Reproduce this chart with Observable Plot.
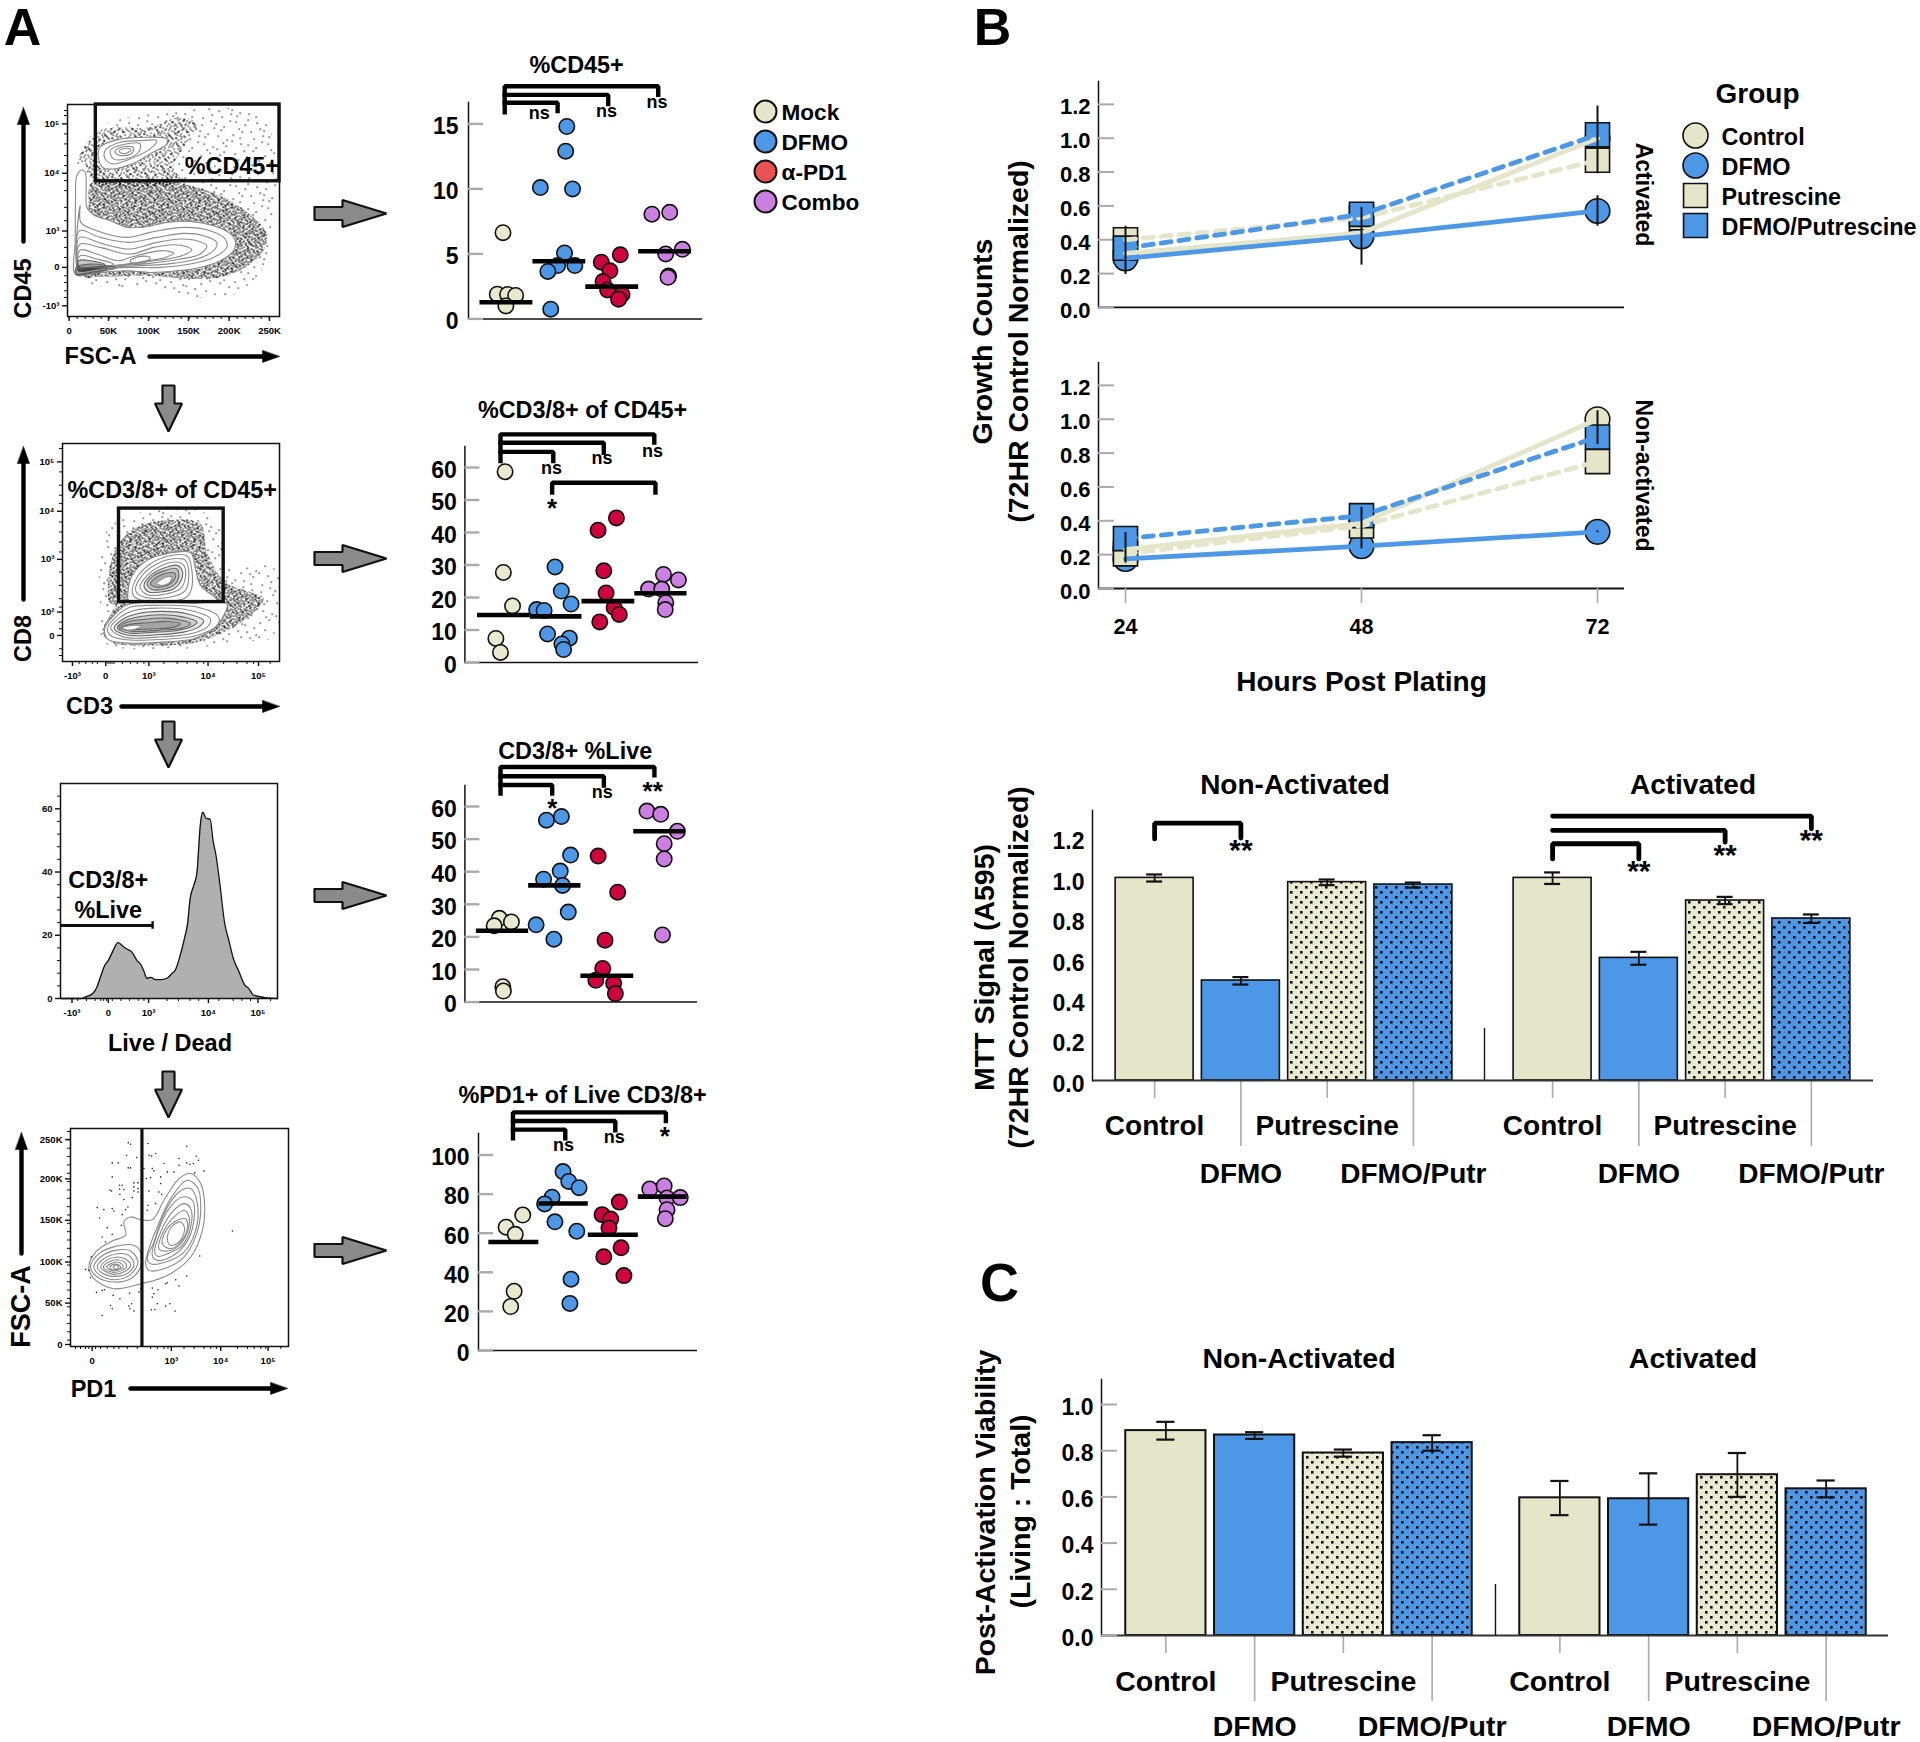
<!DOCTYPE html>
<html><head><meta charset="utf-8">
<script src="https://cdn.jsdelivr.net/npm/d3@7"></script>
<script src="https://cdn.jsdelivr.net/npm/@observablehq/plot@0.6"></script>
<style>html,body{margin:0;padding:0;background:#fff}#page{position:relative;width:1920px;height:1742px;overflow:hidden;background:#fff}#page>svg{position:absolute;overflow:visible}</style>
</head><body><div id="page"></div>
<script>
// ---------- colours ----------
const beige="#E4E5C9", blue="#4C97E6", red="#D0033C", legendRed="#EC5153", purple="#CB7FE0";
const FONT="'Liberation Sans',Arial,sans-serif";
// ---------- panel A: groups ----------
const mouseGroups=["Mock","DFMO","α-PD1","Combo"];
// [swarm position, value]
const cd45Mock=[[875,6.63],[865,1.9],[883,1.88],[897,1.8],[880,1.0]];
const cd45Dfmo=[[986,14.8],[984,12.9],[940,10.1],[996,10],[982,5.07],[970,4.1],[1000,4.1],[953,3.65],[958,0.75]];
const cd45Pd1=[[1079,4.93],[1046,4.36],[1061,3.7],[1049,2.87],[1057,2.23],[1082,1.88],[1076,1.52]];
const cd45Combo=[[1134,8.05],[1165,8.2],[1187,5.35],[1158,5.0],[1163,3.3],[1162,3.2]];
const cd45Medians=[[835,927,1.28],[927,1019,4.43],[1019,1111,2.48],[1111,1203,5.2]];
const cd45Brackets=[[[878,15.89],[878,17.9],[1145,17.9],[1145,17.23]],[[878,17.23],[1058,17.23],[1058,16.52]],[[878,16.63],[970,16.63],[970,15.99]]];
const cd45Notes=[["ns",938,15.82],["ns",1055,15.99],["ns",1143,16.63]];

const cd38Mock=[[878,58.7],[875,27.7],[891,17.4],[862,7.4],[870,3.1]];
const cd38Dfmo=[[965,29.4],[976,22],[993,18],[933,16.3],[946,16],[952,8.8],[990,7.5],[977,5.7],[980,4]];
const cd38Pd1=[[1072,44.5],[1040,40.7],[1050,28.2],[1054,21.4],[1068,16.9],[1077,14.8],[1043,12.5]];
const cd38Combo=[[1154,27.1],[1180,25.4],[1128,22.6],[1151,22.6],[1158,18.4],[1157,16.3]];
const cd38Medians=[[830,922,14.6],[922,1012,14.2],[1012,1104,18.9],[1104,1195,21.3]];
const cd38Brackets=[[[870,62],[870,70.2],[1138,70.2],[1138,67.7]],[[870,67.6],[1050,67.6],[1050,64.5]],[[870,64.8],[962,64.8],[962,62]],[[960,52.3],[960,55.3],[1140,55.3],[1140,52.3]]];
const cd38Notes=[["ns",959,59.9],["ns",1047,62.7],["ns",1135,65],["*",960,49.2]];

const liveMock=[[868,25.7],[889,24.6],[859,23.4],[874,4.7],[875,3.4]];
const liveDfmo=[[976,56.9],[950,55.8],[992,45.1],[974,40.2],[945,37.7],[978,35.8],[988,27.6],[932,23.7],[963,19.3]];
const livePd1=[[1040,44.8],[1074,33.7],[1052,19],[1048,10.3],[1036,6.7],[1067,5.8],[1070,2.6]];
const liveCombo=[[1125,58.6],[1149,57.6],[1178,52.4],[1155,48.6],[1155,43.9],[1152,20.6]];
const liveMedians=[[828,919,21.9],[919,1010,35.8],[1010,1102,8.1],[1102,1192,52.4]];
const liveBrackets=[[[870,64],[870,72.1],[1138,72.1],[1138,69.6]],[[870,69.3],[1050,69.3],[1050,66.4]],[[870,66.6],[960,66.6],[960,64]]];
const liveNotes=[["*",960,61.2],["ns",1047,64.4],["**",1135,66.4]];

const pd1Mock=[[909,69.3],[880,63.1],[896,59.4],[894,30.3],[888,22.5]];
const pd1Dfmo=[[979,91.5],[989,86.5],[1007,83.3],[960,78.4],[947,75],[965,65.8],[1003,61],[993,36.5],[991,24.1]];
const pd1Pd1=[[1077,75.9],[1047,69.5],[1062,67.2],[1059,62.6],[1080,52.5],[1050,47.9],[1085,38.3]];
const pd1Combo=[[1130,82.6],[1155,84.2],[1160,78],[1183,78.2],[1160,72],[1157,67.4]];
const pd1Medians=[[850,937,55.5],[937,1023,75.2],[1023,1110,59.2],[1110,1195,78.7]];
const pd1Brackets=[[[892,108.5],[892,121.8],[1158,121.8],[1158,117.4]],[[892,117.4],[1070,117.4],[1070,112.6]],[[892,113],[983,113],[983,108.5]]];
const pd1Notes=[["ns",980,105],["ns",1068,108.9],["*",1156,112.6]];

// ---------- panel A: cytometry outlines ----------
const fl1Main=[[[95,238],[105,245],[108,300],[110,350],[130,372],[180,390],[232,410],[290,408],[350,395],[420,392],[490,405],[535,425],[555,450],[550,480],[510,510],[450,530],[380,540],[300,545],[230,540],[150,545],[85,555],[72,545],[75,450],[76,330],[80,255]],
[[90,345],[92,395],[140,420],[230,440],[300,425],[400,410],[480,420],[525,445],[530,470],[490,500],[420,520],[330,530],[240,530],[140,535],[85,540],[78,500],[80,430]],
[[88,420],[150,440],[235,455],[320,440],[400,428],[460,435],[500,455],[490,480],[440,505],[350,520],[260,525],[150,530],[85,535],[78,490]],
[[88,440],[160,460],[240,475],[320,455],[390,445],[440,450],[470,465],[450,490],[390,505],[300,518],[200,525],[90,530],[80,490]],
[[90,460],[150,470],[240,490],[310,470],[370,462],[410,468],[425,478],[395,495],[330,508],[250,518],[150,528],[90,530],[80,500]],
[[90,478],[140,490],[205,510],[240,500],[300,485],[345,480],[370,488],[345,500],[280,512],[220,522],[120,530],[85,530]],
[[90,495],[140,505],[190,520],[160,530],[100,535],[80,525]],
[[240,510],[270,497],[300,500],[285,515],[250,518]],
[[85,510],[120,510],[165,522],[130,535],[85,538]],
[[78,530],[120,520],[200,532],[120,545],[78,550]],
[[78,538],[120,530],[170,536],[120,548],[78,552]],
[[150,170],[200,148],[290,140],[350,145],[350,160],[300,190],[250,218],[190,235],[160,232],[145,205]],
[[165,180],[210,155],[280,150],[320,150],[300,175],[240,205],[190,220],[165,205]],
[[180,180],[220,162],[270,160],[265,185],[225,205],[190,205]],
[[195,180],[225,168],[250,172],[245,188],[215,195],[198,190]],
[[207,180],[230,173],[243,178],[230,187],[212,187]]];
const fl1Dense=[[120,280],[135,275],[240,270],[400,280],[520,320],[610,380],[650,430],[640,480],[600,520],[530,555],[430,565],[300,555],[150,558],[100,556],[115,400]];
const fl1Top=[[85,210],[150,120],[300,110],[390,80],[440,100],[400,170],[370,230],[400,270],[135,275],[100,225]];
const fl1Sparse=[[80,220],[150,110],[300,70],[500,50],[640,80],[680,270],[660,430],[640,530],[530,620],[300,590],[100,565],[120,300]];

const fl2Rings=[[[235,495],[232,470],[245,420],[290,375],[350,355],[420,352],[435,400],[450,450],[500,495],[380,497]],
[[245,470],[260,425],[300,385],[355,362],[410,362],[425,410],[420,470],[400,490],[260,490]],
[[255,465],[275,420],[320,385],[370,370],[405,375],[415,420],[405,465],[360,485],[280,485]],
[[268,455],[290,420],[330,392],[375,380],[400,390],[405,425],[390,460],[350,475],[290,478]],
[[280,450],[300,420],[340,398],[380,390],[395,405],[392,435],[370,460],[330,470],[295,470]],
[[290,445],[310,420],[345,405],[378,400],[385,420],[375,445],[345,460],[305,462]],
[[300,445],[325,422],[355,412],[375,415],[370,435],[345,452],[315,455]],
[[318,445],[340,428],[362,424],[360,438],[338,450]],
[[162,580],[185,545],[225,510],[300,500],[420,503],[530,505],[520,540],[490,580],[430,610],[330,620],[220,622],[170,610]],
[[170,580],[195,545],[240,515],[320,510],[440,515],[505,545],[500,570],[440,600],[330,612],[220,612],[180,600]],
[[180,578],[205,548],[250,525],[320,518],[420,525],[480,550],[470,575],[420,595],[320,605],[220,605]],
[[190,578],[215,552],[260,535],[330,528],[410,535],[460,555],[445,575],[400,590],[320,598],[225,598]],
[[200,576],[225,555],[270,543],[340,538],[400,545],[440,560],[420,575],[380,585],[310,590],[230,592]],
[[205,576],[230,560],[280,552],[345,548],[395,555],[420,565],[395,578],[330,584],[240,587]],
[[210,576],[240,566],[290,562],[350,558],[390,565],[370,575],[310,580],[240,582]],
[[215,577],[245,570],[275,572],[250,582],[225,583]]];
const fl2Dense=[[175,500],[190,350],[250,280],[350,255],[450,265],[470,350],[525,440],[600,470],[640,490],[600,540],[520,590],[440,620],[300,630],[180,620],[155,590],[190,510]];
const fl2Sparse=[[160,300],[240,240],[460,230],[520,300],[540,400],[680,380],[688,500],[680,600],[560,620],[380,640],[160,620],[150,540]];

const fl3X=[105,125,140,150,160,168,175,182,188,196,205,215,222,228,238,245,250,255,262,270,280,290,298,305,312,320,326,330,337,342,348,352,358,365,370,375,382,390,398,405,415,425,432,440,460,482];
const fl3Count=[0,0,0,0.6,1.4,3.5,7.1,10.5,12,15,17.7,16.3,15.5,14.9,12,10.6,8.6,6.4,6.7,6,6,6.4,7.8,9.2,13,18.7,24,31.2,36,39.7,55,58.9,57,56.7,50,45.4,36,24,18,12.8,8.5,4.3,3.2,1.1,0.3,0];

const fl4Rings=[[[115,440],[135,395],[185,362],[225,345],[220,305],[240,290],[270,298],[305,298],[340,240],[385,175],[420,160],[450,190],[462,260],[455,330],[420,410],[350,465],[270,490],[190,505],[130,475]],
[[285,430],[295,385],[320,320],[360,235],[410,180],[442,205],[450,270],[438,340],[400,410],[340,445],[295,450]],
[[290,415],[310,365],[340,280],[385,215],[420,205],[440,250],[435,330],[400,395],[345,425],[300,430]],
[[305,405],[320,340],[355,265],[395,230],[425,240],[428,310],[405,370],[360,410],[320,420]],
[[312,395],[330,335],[365,275],[400,250],[420,265],[420,320],[395,375],[350,400],[322,408]],
[[325,385],[340,330],[370,290],[400,270],[415,290],[410,335],[385,375],[350,392]],
[[335,370],[350,325],[380,300],[405,295],[410,325],[390,365],[360,385]],
[[350,355],[362,320],[390,305],[402,325],[385,365],[360,375]],
[[120,440],[145,400],[195,378],[250,375],[272,400],[270,440],[240,475],[190,485],[140,470]],
[[130,440],[150,410],[195,390],[240,392],[262,425],[240,462],[190,478],[145,462]],
[[140,440],[160,415],[200,400],[235,405],[250,432],[232,458],[190,468],[155,458]],
[[150,440],[168,420],[200,410],[228,418],[240,435],[225,452],[190,462],[162,452]],
[[158,440],[175,425],[200,418],[222,425],[228,438],[215,450],[190,456],[168,450]],
[[168,440],[180,430],[200,425],[215,432],[218,440],[205,448],[185,450]],
[[178,440],[190,432],[205,434],[210,442],[195,449],[182,447]],
[[188,440],[197,434],[204,440],[196,447]]];
const fl4Events=[[233,68],[240,72],[292,70],[228,105],[258,112],[295,105],[303,107],[315,100],[408,78],[437,108],[385,115],[443,120],[185,128],[203,128],[340,130],[385,135],[408,128],[418,132],[428,130],[233,143],[240,143],[280,145],[305,145],[310,152],[350,155],[370,155],[432,158],[460,152],[185,170],[287,175],[300,172],[330,170],[207,195],[215,195],[250,188],[262,188],[330,190],[250,200],[262,205],[207,207],[220,208],[178,210],[183,212],[295,212],[325,215],[208,222],[250,212],[262,215],[220,238],[245,232],[333,222],[315,250],[140,262],[160,268],[185,265],[190,272],[232,260],[225,268],[292,255],[275,270],[290,270],[147,293],[215,283],[170,322],[212,315],[155,350],[185,342],[165,365],[545,332],[447,407],[122,410],[105,447],[115,450],[120,472],[408,467],[375,478],[385,497],[345,490],[350,487],[155,510],[138,516],[162,508],[188,525],[208,535],[237,518],[265,515],[270,505],[305,503],[322,508],[310,520],[305,530],[180,555],[185,565],[235,557],[243,550],[238,565],[250,572],[320,550],[345,557],[358,550],[302,568],[313,567],[373,572],[155,585]];

// ---------- panel B: growth curves ----------
const hours=[24,48,72];
const treatGroups=["Control","DFMO","Putrescine","DFMO/Putrescine"];
const actControl=[0.32,0.44,1.0], actDfmo=[0.29,0.42,0.57], actPutr=[0.40,0.53,0.87], actBoth=[0.35,0.55,1.02];
const nonControl=[0.23,0.385,1.0], nonDfmo=[0.175,0.25,0.335], nonPutr=[0.205,0.37,0.75], nonBoth=[0.295,0.43,0.895];
// [hours, low, high]
const actErr=[[24,0.195,0.48],[48,0.25,0.59],[72,0.79,1.19],[72,0.48,0.66]];
const nonErr=[[24,0.15,0.33],[48,0.235,0.48],[72,0.85,1.05],[72,0.33,0.34]];

// ---------- MTT and viability bars ----------
const barGroups=["Control","DFMO","Putrescine","DFMO/Putr"];
const barPanels=["Non-Activated","Activated"];
const mttNon=[1.003,0.495,0.982,0.97], mttAct=[1.003,0.607,0.891,0.802];
const mttNonLo=[0.985,0.475,0.967,0.955], mttNonHi=[1.02,0.512,0.995,0.98];
const mttActLo=[0.973,0.573,0.873,0.78], mttActHi=[1.03,0.637,0.909,0.822];
const viaNon=[0.887,0.868,0.79,0.835], viaAct=[0.596,0.592,0.696,0.635];
const viaNonLo=[0.848,0.851,0.774,0.80], viaNonHi=[0.925,0.88,0.805,0.867];
const viaActLo=[0.521,0.48,0.60,0.598], viaActHi=[0.669,0.702,0.79,0.671];
const mttBrackets=[["Non-Activated",[["Control",1.196],["Control",1.274],["DFMO",1.274],["DFMO",1.2]]],
["Activated",[["Control",1.097],["Control",1.172],["DFMO",1.172],["DFMO",1.097]]],
["Activated",[["Control",1.238],["Putrescine",1.238],["Putrescine",1.18]]],
["Activated",[["Control",1.309],["DFMO/Putr",1.309],["DFMO/Putr",1.246]]]];
const mttStars=[["Non-Activated","DFMO",1.158],["Activated","DFMO",1.053],["Activated","Putrescine",1.134],["Activated","DFMO/Putr",1.208]];

// ---------- helpers ----------
const page=document.getElementById("page");
function place(el,left,top){el.style.position="absolute";el.style.left=left+"px";el.style.top=top+"px";el.style.background="transparent";page.appendChild(el);return el;}
const baseStyle={fontFamily:FONT,background:"transparent",color:"#000"};
const flat=(list)=>list.flatMap((pts,id)=>pts.map(([a,b])=>({a,b,id})));
const blankTick=()=>"";

// textures
const SVGNS="http://www.w3.org/2000/svg";
const defsSvg=document.createElementNS(SVGNS,"svg");
defsSvg.setAttribute("style","position:absolute;width:0;height:0");
function halton(i,b){let f=1,r=0;while(i>0){f/=b;r+=f*(i%b);i=Math.floor(i/b);}return r;}
function stipple(id,n,size){
  let d="";for(let i=1;i<=n;i++){d+=`M${Math.floor(halton(i,2)*size)} ${Math.floor(halton(i,3)*size)}h1.3v1.3h-1.3z`;}
  return `<pattern id="${id}" width="${size}" height="${size}" patternUnits="userSpaceOnUse"><path d="${d}" fill="#000"/></pattern>`;
}
function barTex(id,bg){return `<pattern id="${id}" width="10" height="10" patternUnits="userSpaceOnUse"><rect width="10" height="10" fill="${bg}"/><rect x="1" y="1" width="2.6" height="2.6" fill="#111"/><rect x="6" y="6" width="2.6" height="2.6" fill="#111"/></pattern>`;}
defsSvg.innerHTML=stipple("stDense",900,64)+stipple("stMed",480,64)+stipple("stSparse",70,64)+barTex("texBeige","#E9EAD2")+barTex("texBlue",blue);
page.appendChild(defsSvg);

// ---------- swarm panels ----------
function swarm({mock,dfmo,pd1,combo,medians,brackets,notes,title,titleX,titleY,xz,axisPx,rightPx,topPx,basePx,pxPerUnit,ticks,tickEnd,labelDy}){
  const left=400, top=topPx-70, w=rightPx-left+10, h=basePx-top+28;
  const pts=[];[mock,dfmo,pd1,combo].forEach((arr,i)=>arr.forEach(([p,v])=>pts.push({g:mouseGroups[i],p,v})));
  const meds=medians.map(([a,b,v])=>({a,b,v}));
  const lines=brackets.flatMap((b,id)=>b.map(([x,y])=>({x,y,id})));
  const plot=Plot.plot({width:w,height:h,marginLeft:axisPx-left,marginRight:10,marginTop:70,marginBottom:28,style:baseStyle,
    x:{domain:xz,range:[axisPx-left,rightPx-left],axis:null},
    y:{domain:[0,(basePx-topPx)/pxPerUnit],label:null,axis:null},
    color:{domain:mouseGroups,range:["#E8E9CF",blue,red,purple]},
    marks:[
      Plot.frame({anchor:"left",stroke:"#111",strokeWidth:1.5}),
      Plot.ruleY([0],{stroke:"#111",strokeWidth:1.5}),
      Plot.ruleY(ticks,{stroke:"#aaa",strokeWidth:2.4,insetRight:w-(axisPx-left)-10-15}),
      Plot.axisY({ticks,tickSize:0,tickPadding:tickEnd,fontSize:23,fontWeight:"bold",dy:labelDy,label:null,tickFormat:d=>d}),
      Plot.dot(pts,{x:"p",y:"v",r:7.7,fill:"g",stroke:"#111",strokeWidth:1.6}),
      Plot.ruleY(meds,{y:"v",x1:"a",x2:"b",stroke:"#000",strokeWidth:4.6}),
      Plot.line(lines,{x:"x",y:"y",z:"id",stroke:"#000",strokeWidth:4.4,strokeLinejoin:"miter",strokeLinecap:"square"}),
      Plot.text(notes.filter(n=>n[0]==="ns"),{x:d=>d[1],y:d=>d[2],text:d=>d[0],fontSize:18,fontWeight:"bold"}),
      Plot.text(notes.filter(n=>n[0]!=="ns"),{x:d=>d[1],y:d=>d[2],text:d=>d[0],fontSize:26,fontWeight:"bold",dy:6}),
      Plot.text([title],{x:titleX,y:titleY,fontSize:23.4,fontWeight:"bold"})
    ]});
  place(plot,left,top);
}
swarm({mock:cd45Mock,dfmo:cd45Dfmo,pd1:cd45Pd1,combo:cd45Combo,medians:cd45Medians,brackets:cd45Brackets,notes:cd45Notes,title:"%CD45+",titleX:1003,titleY:19.5,xz:[815,1222],axisPx:468,rightPx:702,topPx:102,basePx:318.4,pxPerUnit:13,ticks:[0,5,10,15],tickEnd:10,labelDy:3});
swarm({mock:cd38Mock,dfmo:cd38Dfmo,pd1:cd38Pd1,combo:cd38Combo,medians:cd38Medians,brackets:cd38Brackets,notes:cd38Notes,title:"%CD3/8+ of CD45+",titleX:1013,titleY:77.6,xz:[808,1215],axisPx:464.4,rightPx:698,topPx:446,basePx:662,pxPerUnit:3.25,ticks:[0,10,20,30,40,50,60],tickEnd:8,labelDy:3});
swarm({mock:liveMock,dfmo:liveDfmo,pd1:livePd1,combo:liveCombo,medians:liveMedians,brackets:liveBrackets,notes:liveNotes,title:"CD3/8+ %Live",titleX:1000,titleY:76.8,xz:[808,1213],axisPx:464.4,rightPx:697,topPx:785,basePx:1001.6,pxPerUnit:3.26,ticks:[0,10,20,30,40,50,60],tickEnd:8,labelDy:3});
swarm({mock:pd1Mock,dfmo:pd1Dfmo,pd1:pd1Pd1,combo:pd1Combo,medians:pd1Medians,brackets:pd1Brackets,notes:pd1Notes,title:"%PD1+ of Live CD3/8+",titleX:1013,titleY:130.5,xz:[832,1213],axisPx:478,rightPx:697,topPx:1132.6,basePx:1349.6,pxPerUnit:1.955,ticks:[0,20,40,60,80,100],tickEnd:9,labelDy:3});

// ---------- cytometry panels ----------
function flow({box:[l,r,t,b],xDom,yDom,xTicks,xLabels,yTicks,yLabels,xMinor,yMinor,marks}){
  const ml=44,mr=6,mt=6,mb=34;
  const plot=Plot.plot({width:r-l+ml+mr,height:b-t+mt+mb,marginLeft:ml,marginRight:mr,marginTop:mt,marginBottom:mb,style:baseStyle,
    x:{domain:xDom,axis:null},y:{domain:yDom,axis:null},
    marks:[...marks,
      Plot.frame({stroke:"#111",strokeWidth:1.5}),
      Plot.axisX({ticks:xMinor,tickSize:3,tickFormat:blankTick,stroke:"#111",label:null}),
      Plot.axisY({ticks:yMinor,tickSize:3,tickFormat:blankTick,stroke:"#111",label:null}),
      Plot.axisX({ticks:xTicks,tickSize:5,tickPadding:6,strokeWidth:1.4,stroke:"#111",tickFormat:d=>xLabels[xTicks.indexOf(d)],fontSize:9.5,fontWeight:"bold",label:null}),
      Plot.axisY({ticks:yTicks,tickSize:5,tickPadding:3,strokeWidth:1.4,stroke:"#111",tickFormat:d=>yLabels[yTicks.indexOf(d)],fontSize:9.5,fontWeight:"bold",label:null})
    ]});
  place(plot,l-ml,t-mt);
}
const stip=(poly,fill)=>Plot.line(poly,{x:d=>d[0],y:d=>d[1],curve:"catmull-rom-closed",fill,stroke:"none",clip:true});
const ringMark=(rings,opts={})=>Plot.line(flat(rings),{x:"a",y:"b",z:"id",curve:"catmull-rom-closed",stroke:"#8a8a8a",strokeWidth:1.1,...opts});
const shade=(rings,op)=>ringMark(rings,{fill:"#000",fillOpacity:op,stroke:"#666"});
const outline=(ring)=>Plot.line(ring,{x:d=>d[0],y:d=>d[1],curve:"catmull-rom-closed",fill:"#fff",stroke:"#8a8a8a",strokeWidth:1.1});
const gateText=(t,x,y)=>Plot.text([t],{x,y,fontSize:23.4,fontWeight:"bold"});
const gateBox=(x1,x2,y1,y2)=>Plot.rect([0],{x1,x2,y1,y2,fill:"none",stroke:"#111",strokeWidth:3.4});

flow({box:[67,279,104,316],xDom:[52,688],yDom:[677,42],
  xTicks:[57,175,295,415,537,658],xLabels:["0","50K","100K","150K","200K","250K"],
  yTicks:[100,248,421,530,645],yLabels:["10⁵","10⁴","10³","0","-10³"],
  xMinor:d3.range(57,680,24),yMinor:[60,75,130,160,195,225,270,300,350,390,440,470,500,555,575,600,620],
  marks:[stip(fl1Sparse,"url(#stSparse)"),stip(fl1Top,"url(#stMed)"),stip(fl1Dense,"url(#stDense)"),
    outline(fl1Main[0]),outline(fl1Main[11]),ringMark(fl1Main.slice(1,8)),shade(fl1Main.slice(8,11),0.22),ringMark(fl1Main.slice(12)),
    gateBox(137,688,42,272),gateText("%CD45+",545,228)]});
flow({box:[62,279,443,661],xDom:[35,688],yDom:[678,25],
  xTicks:[65,165,295,473,625],xLabels:["-10³","0","10³","10⁴","10⁵"],
  yTicks:[80,228,372,530,600],yLabels:["10⁵","10⁴","10³","10²","0"],
  xMinor:[85,105,125,140,165,172,178,184,190,215,240,260,280,340,380,410,440,460,520,560,590,610,660],yMinor:[40,110,150,180,205,260,290,320,350,410,450,490,515,560,580,640,660],
  marks:[stip(fl2Sparse,"url(#stSparse)"),stip(fl2Dense,"url(#stDense)"),
    outline(fl2Rings[0]),outline(fl2Rings[8]),ringMark(fl2Rings.slice(1,4)),shade(fl2Rings.slice(4,7),0.12),ringMark(fl2Rings.slice(7,8),{fill:"#fff"}),ringMark(fl2Rings.slice(9,11)),shade(fl2Rings.slice(11,15),0.1),ringMark(fl2Rings.slice(15),{fill:"#fff"}),
    gateBox(205,520,220,500),gateText("%CD3/8+ of CD45+",365,165)]});
{
  const hist=fl3X.map((x,i)=>({x,c:fl3Count[i]}));
  flow({box:[60,277,783,998],xDom:[105,482],yDom:[0,68],
    xTicks:[125,188,258,362,448],xLabels:["-10³","0","10³","10⁴","10⁵"],
    yTicks:[0,20,40,60],yLabels:["0","20","40","60"],
    xMinor:[135,150,165,175,180,185,195,210,225,240,250,290,310,330,345,380,405,420,435,470],yMinor:[4,8,12,16,24,28,32,36,44,48,52,56,64],
    marks:[Plot.areaY(hist,{x:"x",y:"c",fill:"#b0b0b0",curve:"monotone-x"}),
      Plot.line(hist,{x:"x",y:"c",stroke:"#111",strokeWidth:1.3,curve:"monotone-x"}),
      Plot.ruleY([23.1],{x1:105,x2:265,stroke:"#111",strokeWidth:3}),
      Plot.ruleX([265],{y1:21.9,y2:24.3,stroke:"#111",strokeWidth:2.4}),
      gateText("CD3/8+",188,37.2),gateText("%Live",188,27.9)]});
}
flow({box:[70,288,1128,1346],xDom:[60,713],yDom:[678,25],
  xTicks:[125,362,510,652],xLabels:["0","10³","10⁴","10⁵"],
  yTicks:[58,176,300,425,548,672],yLabels:["250K","200K","150K","100K","50K","0"],
  xMinor:[75,90,105,115,135,150,170,190,205,230,260,300,320,340,352,400,430,460,480,497,560,590,610,630,645,690],yMinor:d3.range(34,672,25),
  marks:[outline(fl4Rings[0]),ringMark(fl4Rings.slice(1)),
    Plot.dot(fl4Events,{x:d=>d[0],y:d=>d[1],r:0.8,fill:"#222"}),
    Plot.ruleX([274],{stroke:"#111",strokeWidth:3.2})]});

// ---------- legends ----------
place(Plot.plot({width:120,height:120,margin:0,marginLeft:14,style:baseStyle,
  x:{axis:null},y:{type:"point",domain:mouseGroups,range:[15,105],padding:0,axis:null},
  color:{domain:mouseGroups,range:[beige,blue,legendRed,purple]},
  marks:[Plot.dot(mouseGroups,{y:d=>d,frameAnchor:"left",r:11,fill:d=>d,stroke:"#111",strokeWidth:2}),
    Plot.text(mouseGroups,{y:d=>d,frameAnchor:"left",dx:16,dy:1,textAnchor:"start",text:d=>d,fontSize:22.6,fontWeight:"bold"})]}),751,96);
place(Plot.plot({width:240,height:120,margin:0,marginLeft:14,style:baseStyle,
  x:{axis:null},y:{type:"point",domain:treatGroups,range:[15,105],padding:0,axis:null},
  color:{domain:treatGroups,range:[beige,blue,beige,blue]},
  marks:[Plot.dot(treatGroups.slice(0,2),{y:d=>d,frameAnchor:"left",r:12.5,fill:d=>d,stroke:"#111",strokeWidth:1.6}),
    Plot.dot(treatGroups.slice(2),{y:d=>d,frameAnchor:"left",symbol:"square",r:13.5,fill:d=>d,stroke:"#111",strokeWidth:1.6}),
    Plot.text(treatGroups,{y:d=>d,frameAnchor:"left",dx:26,dy:2,textAnchor:"start",text:d=>d,fontSize:23.4,fontWeight:"bold"})]}),1681,120);

// ---------- growth curves ----------
{
  const facets=["Activated","Non-activated"];
  const rows=[];
  [[facets[0],[actControl,actDfmo,actPutr,actBoth]],[facets[1],[nonControl,nonDfmo,nonPutr,nonBoth]]].forEach(([f,series])=>
    series.forEach((vals,gi)=>vals.forEach((v,i)=>rows.push({f,h:hours[i],v,g:treatGroups[gi]}))));
  const errs=[...actErr.map(e=>({f:facets[0],h:e[0],lo:e[1],hi:e[2]})),...nonErr.map(e=>({f:facets[1],h:e[0],lo:e[1],hi:e[2]}))];
  const circles=rows.filter(r=>r.g==="Control"||r.g==="DFMO"), squares=rows.filter(r=>r.g==="Putrescine"||r.g==="DFMO/Putrescine");
  const left=950,W=700;
  const yt=[0,0.2,0.4,0.6,0.8,1.0,1.2];
  place(Plot.plot({width:W,height:720,marginLeft:148,marginRight:26,marginTop:81,marginBottom:132,style:baseStyle,
    x:{type:"point",domain:hours,padding:0.114,axis:null},
    y:{domain:[0,1.335],axis:null},
    fy:{domain:facets,paddingInner:0.196,paddingOuter:0,round:false,axis:null},
    color:{domain:treatGroups,range:[beige,blue,beige,blue]},
    marks:[
      Plot.frame({anchor:"left",stroke:"#111",strokeWidth:1.5}),
      Plot.ruleY([0],{stroke:"#111",strokeWidth:1.8}),
      Plot.ruleY(yt,{stroke:"#aaa",strokeWidth:2,insetRight:W-148-26-16}),
      Plot.axisY({ticks:yt,tickSize:0,tickPadding:8,fontSize:22,fontWeight:"bold",dy:3,label:null,tickFormat:d3.format(".1f")}),
      Plot.axisX({ticks:hours,tickSize:15,stroke:"#aaa",strokeWidth:1.6,tickPadding:15,fontSize:21.5,fontWeight:"bold",label:null}),
      Plot.axisFy({anchor:"right",label:null,tickSize:0,tickPadding:28,tickRotate:90,fontSize:23,fontWeight:"bold"}),
      Plot.dot(circles,{x:"h",y:"v",fy:"f",r:12.3,fill:"g",stroke:"#111",strokeWidth:1.6}),
      Plot.dot(squares,{x:"h",y:"v",fy:"f",symbol:"square",r:13.6,fill:"g",stroke:"#111",strokeWidth:1.6}),
      Plot.line(circles,{x:"h",y:"v",fy:"f",z:"g",stroke:"g",strokeWidth:4.8}),
      Plot.line(squares,{x:"h",y:"v",fy:"f",z:"g",stroke:"g",strokeWidth:4.8,strokeDasharray:"10,8"}),
      Plot.ruleX(errs,{x:"h",y1:"lo",y2:"hi",fy:"f",stroke:"#111",strokeWidth:2})
    ]}),left,0);
}

// ---------- bar panels ----------
function bars({non,act,nonLo,nonHi,actLo,actHi,brackets=[],stars=[],left,top,W,H,mL,mR,mT,mB,fxRange,fxInner,yMax,yTicks,tickLen,capInset,sw,dy,labelSize,topPad,fxDx,longPad}){
  const rows=[];
  [[barPanels[0],non,nonLo,nonHi],[barPanels[1],act,actLo,actHi]].forEach(([p,v,lo,hi])=>barGroups.forEach((g,i)=>rows.push({p,g,v:v[i],lo:lo[i],hi:hi[i]})));
  const br=brackets.flatMap(([p,pts],id)=>pts.map(([g,y])=>({p,g,y,id})));
  place(Plot.plot({width:W,height:H,marginLeft:mL,marginRight:mR,marginTop:mT,marginBottom:mB,style:baseStyle,
    x:{domain:barGroups,paddingInner:0.096,paddingOuter:0.048,round:false,axis:null},
    y:{domain:[0,yMax],axis:null},
    fx:{domain:barPanels,range:fxRange,paddingInner:fxInner,paddingOuter:0,round:false,axis:null},
    color:{domain:barGroups,range:[beige,blue,"url(#texBeige)","url(#texBlue)"]},
    marks:[
      Plot.barY(rows,{x:"g",y:"v",fx:"p",fill:"g",stroke:"#111",strokeWidth:sw}),
      Plot.axisX({ticks:["Control","Putrescine"],tickSize:18,stroke:"#aaa",strokeWidth:1.6,tickPadding:17,fontSize:labelSize,fontWeight:"bold",label:null}),
      Plot.axisX({ticks:["DFMO","DFMO/Putr"],tickSize:66,stroke:"#aaa",strokeWidth:1.6,tickPadding:longPad,fontSize:labelSize,fontWeight:"bold",label:null}),
      Plot.axisFx({label:null,tickSize:0,tickPadding:topPad,fontSize:labelSize,fontWeight:"bold",dx:fxDx}),
      Plot.ruleX(rows,{x:"g",y1:"lo",y2:"hi",fx:"p",stroke:"#111",strokeWidth:1.8}),
      Plot.tickY(rows,{x:"g",y:"lo",fx:"p",stroke:"#111",strokeWidth:2.2,insetLeft:capInset,insetRight:capInset}),
      Plot.tickY(rows,{x:"g",y:"hi",fx:"p",stroke:"#111",strokeWidth:2.2,insetLeft:capInset,insetRight:capInset}),
      Plot.line(br,{x:"g",y:"y",fx:"p",z:"id",stroke:"#000",strokeWidth:4.8,strokeLinejoin:"miter"}),
      Plot.text(stars,{x:d=>d[1],y:d=>d[2],fx:d=>d[0],text:()=>"**",fontSize:30,fontWeight:"bold",dy:4})
    ]}),left,top);
  // the value axis spans both panels, so it is a plot of its own on the same y scale
  place(Plot.plot({width:W,height:H,marginLeft:mL,marginRight:mR,marginTop:mT,marginBottom:mB,style:baseStyle,
    x:{axis:null},y:{domain:[0,yMax],axis:null},
    marks:[
      Plot.ruleY([0],{stroke:"#333",strokeWidth:2.2}),
      Plot.frame({anchor:"left",stroke:"#111",strokeWidth:1.5}),
      ...(tickLen?[Plot.ruleY(yTicks,{stroke:"#aaa",strokeWidth:2,insetRight:W-mL-mR-tickLen})]:[]),
      Plot.axisY({ticks:yTicks,tickSize:0,tickPadding:8,fontSize:23,fontWeight:"bold",dy,label:null,tickFormat:d3.format(".1f")})
    ]}),left,top);
}
bars({non:mttNon,act:mttAct,nonLo:mttNonLo,nonHi:mttNonHi,actLo:mttActLo,actHi:mttActHi,brackets:mttBrackets,stars:mttStars,left:950,top:740,W:960,H:470,mL:142,mR:37,mT:70,mB:130,fxRange:[161,904],fxInner:0.133,yMax:270/202,yTicks:[0,0.2,0.4,0.6,0.8,1.0,1.2],tickLen:0,capInset:31,sw:1.6,dy:4,labelSize:28,topPad:17,fxDx:11,longPad:17});
bars({non:viaNon,act:viaAct,nonLo:viaNonLo,nonHi:viaNonHi,actLo:viaActLo,actHi:viaActHi,left:950,top:1320,W:965,H:422,mL:151,mR:27,mT:59,mB:107,fxRange:[171,920],fxInner:0.099,yMax:256/231,yTicks:[0,0.2,0.4,0.6,0.8,1.0],tickLen:16,capInset:31,sw:2,dy:3,labelSize:28.5,topPad:12,fxDx:0,longPad:14});

// ---------- page furniture: letters, gating arrows, rotated titles ----------
const pageLabels=[
  ["A",22,28,52,0],["B",992,28,52,0],["C",999,1283,54,0],
  ["Group",1757,94,28,0],["Hours Post Plating",1361,682,28,0],
  ["FSC-A",100,356,23.5,0],["CD45",23,288,23.5,-90],
  ["CD3",89,706,23.5,0],["CD8",23,638,23.5,-90],
  ["Live / Dead",169.5,1043,23.5,0],
  ["PD1",93,1389,23.5,0],["FSC-A",21,1306,27,-90],
  ["Growth Counts",982,341,28.5,-90],["(72HR Control Normalized)",1018,341,28.5,-90],
  ["MTT Signal (A595)",984,967,28.5,-90],["(72HR Control Normalized)",1018,967,28.5,-90],
  ["Post-Activation Viability",985,1512,28.5,-90],["(Living : Total)",1020,1511,28.5,-90]
];
const axisArrows=[[149,356,279,356],[23,241,23,107],[121,706,279,706],[23,599,23,446],[130,1388,287,1388],[21,1253,21,1132]];
const rightBlocks=[[314,213],[314,558],[314,895],[314,1250]];
const downBlocks=[[168,385],[168,721],[168,1071]];
const shortAxes=[[1484,1028,1080],[1495,1584,1635]];
{
  const dir=(a,b)=>Math.sign(b-a);
  const heads=axisArrows.flatMap(([x1,y1,x2,y2],id)=>{
    const ux=dir(x1,x2),uy=dir(y1,y2),L=17,W=6;
    return [[x2,y2],[x2-ux*L-uy*W,y2-uy*L+ux*W],[x2-ux*L+uy*W,y2-uy*L-ux*W]].map(([x,y])=>({x,y,id}));
  });
  const shafts=axisArrows.flatMap(([x1,y1,x2,y2],id)=>[{x:x1,y:y1,id},{x:x2-dir(x1,x2)*10,y:y2-dir(y1,y2)*10,id}]);
  const blocks=[
    ...rightBlocks.map(([x,y],id)=>[[x,y-6.5],[x+28,y-6.5],[x+28,y-13.5],[x+72,y],[x+28,y+13.5],[x+28,y+6.5],[x,y+6.5],[x,y-6.5]].map(([a,b])=>({x:a,y:b,id:"r"+id}))),
    ...downBlocks.map(([x,y],id)=>[[x-6,y],[x+6,y],[x+6,y+18],[x+13.5,y+18],[x,y+46],[x-13.5,y+18],[x-6,y+18],[x-6,y]].map(([a,b])=>({x:a,y:b,id:"d"+id})))
  ].flat();
  place(Plot.plot({width:1920,height:1742,margin:0,style:baseStyle,
    x:{domain:[0,1920],range:[0,1920],axis:null},y:{domain:[0,1742],range:[0,1742],axis:null},
    marks:[
      Plot.line(blocks,{x:"x",y:"y",z:"id",fill:"#8a8a8a",stroke:"#111",strokeWidth:2.2,strokeLinejoin:"miter"}),
      Plot.line(shafts,{x:"x",y:"y",z:"id",stroke:"#000",strokeWidth:4.4}),
      Plot.line(heads,{x:"x",y:"y",z:"id",fill:"#000",stroke:"#000",strokeWidth:0.5,curve:"linear-closed"}),
      Plot.ruleX(shortAxes,{x:d=>d[0],y1:d=>d[1],y2:d=>d[2],stroke:"#111",strokeWidth:1.4}),
      ...pageLabels.map(([t,x,y,s,r])=>Plot.text([t],{x:()=>x,y:()=>y,text:d=>d,fontSize:s,fontWeight:"bold",rotate:r}))
    ]}),0,0);
}
</script></body></html>
